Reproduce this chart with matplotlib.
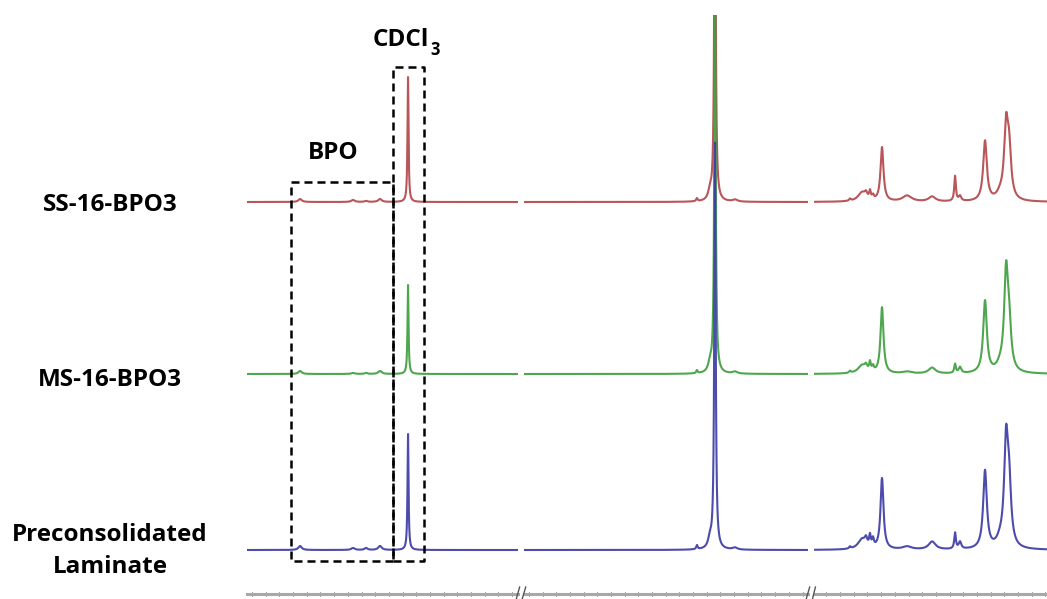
import numpy as np
import matplotlib
matplotlib.use("Agg")
import matplotlib.pyplot as plt
from matplotlib.ticker import MultipleLocator, NullLocator

plt.rcParams['font.family'] = ['Open Sans', 'DejaVu Sans']

# ---------------- data (chemical shift, ppm; intensity, a.u.) ----------------
sample_names = ["SS-16-BPO3", "MS-16-BPO3", "Preconsolidated\nLaminate"]
colors = ["#b3474b", "#3f9f3f", "#3d3da6"]
offsets = [392, 220, 44]            # stacking offsets of the three traces

# three x-ranges of the broken axis (left -> right, ppm decreasing)
seg_limits = [(8.437, 6.456), (5.036, 2.960), (2.291, 0.588)]

# peak tables: positions (ppm), FWHM (ppm)
seg1_pos = [8.049, 7.662, 7.567, 7.465, 7.260]
seg1_fwhm = [0.030, 0.030, 0.025, 0.030, 0.009]
seg1_h = {"SS-16-BPO3": [3, 2, 1, 3, 125],
          "MS-16-BPO3": [3, 1, 1, 3, 89],
          "Preconsolidated\nLaminate": [4, 2, 2, 4, 116]}

seg2_pos = [3.640, 3.677, 3.772, 3.494]
seg2_fwhm = [0.012, 0.030, 0.012, 0.040]
seg2_h = {"SS-16-BPO3": [400, 8, 3, 2],
          "MS-16-BPO3": [400, 8, 3, 2],
          "Preconsolidated\nLaminate": [406, 9, 4, 2]}

seg3_pos = [2.028, 1.940, 1.911, 1.882, 1.860, 1.794, 1.611, 1.428,
            1.260, 1.224, 1.041, 0.931, 0.887, 0.865]
seg3_fwhm = [0.015, 0.070, 0.022, 0.014, 0.016, 0.026, 0.080, 0.060,
             0.014, 0.022, 0.032, 0.060, 0.034, 0.034]
seg3_h = {"SS-16-BPO3": [2, 9, 5, 8, 4, 54, 6, 5, 25, 5, 60, 5, 70, 45],
          "MS-16-BPO3": [2, 8, 5, 9, 5, 66, 2, 6, 9, 6, 72, 5, 96, 40],
          "Preconsolidated\nLaminate": [2, 10, 7, 11, 8, 71, 3, 8, 16, 7, 78, 6, 102, 55]}

seg_tables = [(seg1_pos, seg1_fwhm, seg1_h),
              (seg2_pos, seg2_fwhm, seg2_h),
              (seg3_pos, seg3_fwhm, seg3_h)]

# ---------------- figure ----------------
W, H = 1047, 599
fig = plt.figure(figsize=(W / 100, H / 100), dpi=100)
fig.patch.set_facecolor("white")

ax_px = [(247, 518), (524, 808), (814, 1047)]
y_bot, y_top = 594, 15
axes = []
for (l, r) in ax_px:
    ax = fig.add_axes([l / W, (H - y_bot) / H, (r - l) / W, (y_bot - y_top) / H])
    axes.append(ax)


def lorentz_sum(x, pos, fwhm, heights):
    y = np.zeros_like(x)
    for p, w, h in zip(pos, fwhm, heights):
        g = w / 2
        y += h * g ** 2 / ((x - p) ** 2 + g ** 2)
    return y


for ax, lim, (pos, fwhm, hts) in zip(axes, seg_limits, seg_tables):
    x = np.linspace(lim[0], lim[1], 8000)
    for k, (name, c, off) in enumerate(zip(sample_names, colors, offsets)):
        ax.plot(x, off + lorentz_sum(x, pos, fwhm, hts[name]), color=c,
                lw=1.5, zorder=2 + k, solid_joinstyle="round", alpha=0.92)
    ax.set_xlim(lim)
    ax.set_ylim(0, y_bot - y_top)
    for s in ["left", "right", "top"]:
        ax.spines[s].set_visible(False)
    ax.spines["bottom"].set_color("#a8a8a8")
    ax.spines["bottom"].set_linewidth(2.2)
    ax.yaxis.set_major_locator(NullLocator())
    ax.xaxis.set_major_locator(NullLocator())
    ax.xaxis.set_minor_locator(MultipleLocator(0.1))
    ax.tick_params(axis="x", which="minor", direction="inout", length=3,
                   width=0.8, color="#555555", labelbottom=False)
    ax.set_facecolor("none")

# break marks on the axis
for ax, side in [(axes[0], 1), (axes[1], 0), (axes[1], 1), (axes[2], 0)]:
    d = 0.006
    ax.plot([side - d, side + d], [-0.008, 0.012], transform=ax.transAxes,
            color="#555555", lw=1.0, clip_on=False, zorder=10)

# dashed boxes (drawn in the left axis data coordinates)
ax = axes[0]
box_style = dict(color="black", lw=1.8, ls=(0, (3.2, 2.0)), zorder=8, clip_on=False)
bpo_x = [7.372, 8.115, 8.115, 7.372, 7.372]
bpo_y = [33, 33, 412, 412, 33]
ax.plot(bpo_x, bpo_y, **box_style)
cd_x = [7.372, 7.143, 7.143, 7.372, 7.372]
cd_y = [33, 33, 527, 527, 33]
ax.plot(cd_x, cd_y, **box_style)

# text
fs = 17.5
fig.text(333 / W, 1 - 153 / H, "BPO", ha="center", va="center",
         fontsize=fs, fontweight="bold")
fig.text(429 / W, 1 - 40 / H, "CDCl", ha="right", va="center",
         fontsize=fs, fontweight="bold")
fig.text(430 / W, 1 - 50 / H, "3", ha="left", va="center",
         fontsize=fs * 0.68, fontweight="bold")
label_y = [205, 380, 551]
for name, yy in zip(sample_names, label_y):
    fig.text(110 / W, 1 - yy / H, name, ha="center", va="center",
             fontsize=fs, fontweight="bold", linespacing=1.4)

fig.savefig("out.png", dpi=100, facecolor="white")
